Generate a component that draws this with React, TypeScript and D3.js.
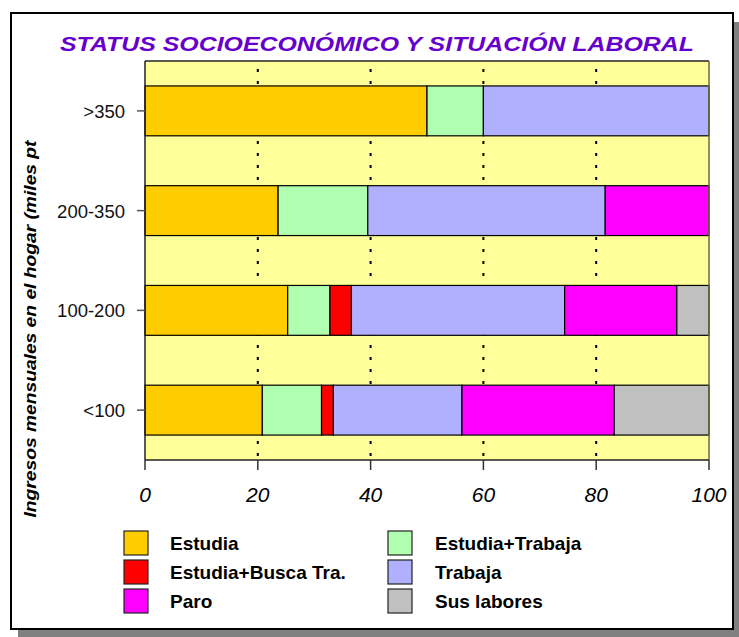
import React from "react";
import * as d3 from "d3";

const categories = ["<100", "100-200", "200-350", ">350"];
const seriesNames = ["Estudia", "Estudia+Trabaja", "Estudia+Busca Tra.", "Trabaja", "Paro", "Sus labores"];
const seriesColors = ["#FFCC00", "#B0FFB0", "#FF0000", "#B0B0FF", "#FF00FF", "#C0C0C0"];
const estudia = [20.8, 25.3, 23.6, 50];
const estudiaTrabaja = [10.5, 7.5, 15.9, 10];
const estudiaBusca = [2.1, 3.8, 0, 0];
const trabaja = [22.8, 37.8, 42.1, 40];
const paro = [27.0, 19.9, 18.4, 0];
const susLabores = [16.8, 5.7, 0, 0];
const xTicks = [0, 20, 40, 60, 80, 100];
const legendOrder = [0, 1, 2, 3, 4, 5];

const W = 739, H = 637;
const plot = { left: 145, right: 709, top: 61, bottom: 460 };

export default function App() {
  const allSeries = [estudia, estudiaTrabaja, estudiaBusca, trabaja, paro, susLabores];
  const rows = categories.map((c, i) => {
    const r: any = { cat: c };
    seriesNames.forEach((s, j) => (r[s] = allSeries[j][i]));
    return r;
  });
  const stack = d3.stack<any>().keys(seriesNames)(rows);
  const x = d3.scaleLinear().domain([0, 100]).range([plot.left, plot.right]);
  const y = d3.scaleBand().domain([...categories].reverse()).range([plot.top, plot.bottom]).paddingInner(0.5).paddingOuter(0.25);
  const yb = d3.scaleBand().domain([...categories].reverse()).range([plot.top, plot.bottom]);

  return (
    <svg width={W} height={H} style={{ position: "absolute", left: 0, top: 0 }} fontFamily="'Liberation Sans', Arial, sans-serif">
      <rect x={0} y={0} width={W} height={H} fill="#fff" />
      <rect x={18} y={22} width={721} height={615} fill="#808080" />
      <rect x={11} y={13} width={722} height={616} fill="#fff" stroke="#000" strokeWidth={2} />
      <text x={377} y={51} textAnchor="middle" fill="#6600CC" fontSize={21} fontStyle="italic" fontWeight="bold" textLength={634} lengthAdjust="spacingAndGlyphs">
        STATUS SOCIOECONÓMICO Y SITUACIÓN LABORAL
      </text>
      <rect x={plot.left} y={plot.top} width={plot.right - plot.left} height={plot.bottom - plot.top} fill="#FFFF99" />
      {xTicks.slice(1, -1).map((t) => (
        <line key={t} x1={x(t)} x2={x(t)} y1={plot.top} y2={plot.bottom} stroke="#000" strokeWidth={2} strokeDasharray="3,9" strokeDashoffset={-8} />
      ))}
      {stack.map((s, j) => (
        <g key={s.key}>
          {s.map((d, i) =>
            d[1] - d[0] > 0 ? (
              <rect key={i} x={x(d[0])} y={y(d.data.cat)!} width={x(d[1]) - x(d[0])} height={y.bandwidth()} fill={seriesColors[j]} stroke="#000" strokeWidth={1.2} />
            ) : null
          )}
        </g>
      ))}
      <line x1={plot.left} x2={plot.right} y1={plot.top} y2={plot.top} stroke="#222" strokeWidth={1.5} />
      <line x1={plot.right} x2={plot.right} y1={plot.top} y2={plot.bottom} stroke="#6b6b3a" strokeWidth={1.5} />
      <line x1={plot.left} x2={plot.left} y1={plot.top} y2={plot.bottom} stroke="#222" strokeWidth={1.5} />
      <line x1={plot.left} x2={plot.right} y1={plot.bottom} y2={plot.bottom} stroke="#222" strokeWidth={1.5} />
      {xTicks.map((t) => (
        <g key={t}>
          <line x1={x(t)} x2={x(t)} y1={plot.bottom} y2={plot.bottom + 10} stroke="#333" strokeWidth={1.5} />
          <text x={x(t)} y={502} textAnchor="middle" fontSize={21} fontStyle="italic" fill="#000">{t}</text>
        </g>
      ))}
      {categories.map((c) => (
        <g key={c}>
          <line x1={plot.left - 8} x2={plot.left} y1={yb(c)! + yb.bandwidth() / 2} y2={yb(c)! + yb.bandwidth() / 2} stroke="#555" strokeWidth={1.5} />
          <text x={plot.left - 20} y={yb(c)! + yb.bandwidth() / 2 + 7} textAnchor="end" fontSize={18.5} fill="#111">{c}</text>
        </g>
      ))}
      <text transform="translate(36,329) rotate(-90)" textAnchor="middle" fontSize={17} fontWeight="bold" fontStyle="italic" fill="#000" textLength={377} lengthAdjust="spacingAndGlyphs">
        Ingresos mensuales en el hogar (miles pt
      </text>
      {legendOrder.map((j, k) => {
        const col = k % 2, row = Math.floor(k / 2);
        const sx = col === 0 ? 124 : 388;
        const sy = 531 + row * 29;
        return (
          <g key={j}>
            <rect x={sx} y={sy} width={24} height={24} fill={seriesColors[j]} stroke="#222" strokeWidth={1.2} />
            <text x={col === 0 ? 170 : 435} y={sy + 19} fontSize={19} fontWeight="bold" fill="#000">{seriesNames[j]}</text>
          </g>
        );
      })}
    </svg>
  );
}
